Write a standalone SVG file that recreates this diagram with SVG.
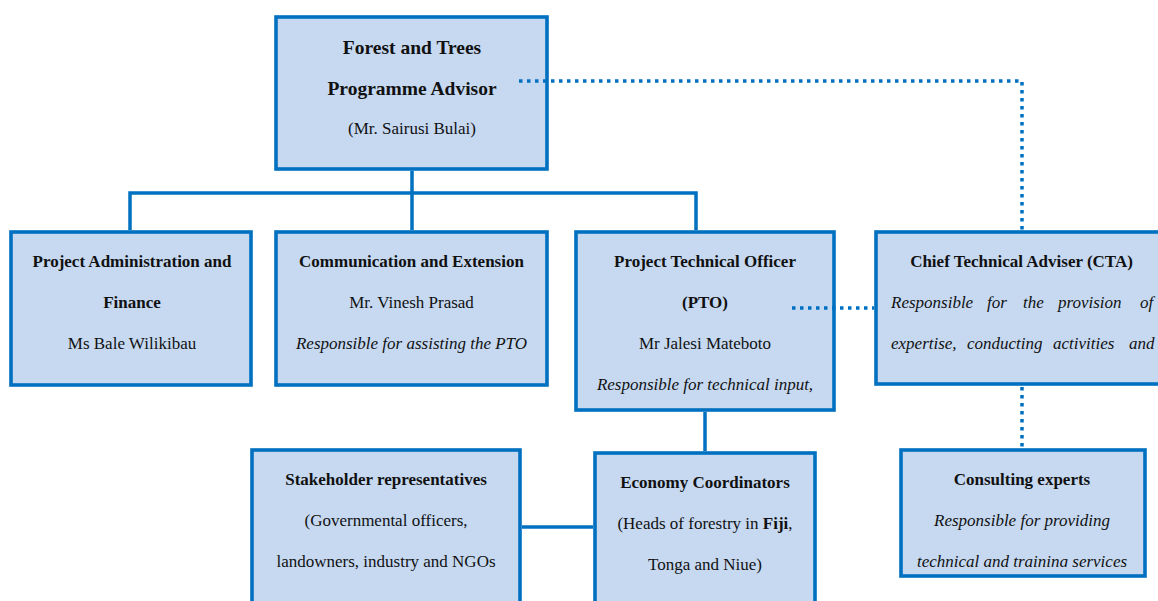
<svg xmlns="http://www.w3.org/2000/svg" width="1158" height="601" viewBox="0 0 1158 601">
<defs>
<style>
.box{fill:#C6D9F1;stroke:#0070C0;stroke-width:3.6}
text{font-family:"Liberation Serif","Times New Roman",serif;font-size:17px;fill:#111;text-anchor:middle}
.b{font-weight:bold}
.big{font-size:19.5px}
.i{font-style:italic}
.solid{fill:none;stroke:#0070C0;stroke-width:3.5}
.dot{fill:none;stroke:#0070C0;stroke-width:3.5;stroke-dasharray:3.5 4.5}
</style>
<clipPath id="clipCons"><rect x="890" y="440" width="270" height="127"/></clipPath>
</defs>
<rect width="1158" height="601" fill="#fff"/>
<g id="advisor">
<rect class="box" x="276" y="17" width="271" height="152"/>
<text class="b big" x="412" y="54">Forest and Trees</text>
<text class="b big" x="412" y="95">Programme Advisor</text>
<text x="412" y="134">(Mr. Sairusi Bulai)</text>
</g>
<g id="admin">
<rect class="box" x="11" y="232" width="240" height="153"/>
<text class="b" x="132" y="267">Project Administration and</text>
<text class="b" x="132" y="308">Finance</text>
<text x="132" y="349">Ms Bale Wilikibau</text>
</g>
<g id="comm">
<rect class="box" x="276" y="232" width="271" height="153"/>
<text class="b" x="411.5" y="267">Communication and Extension</text>
<text x="411.5" y="308">Mr. Vinesh Prasad</text>
<text class="i" x="411.5" y="349">Responsible for assisting the PTO</text>
</g>
<g id="pto">
<rect class="box" x="576" y="232" width="258" height="178"/>
<text class="b" x="705" y="267">Project Technical Officer</text>
<text class="b" x="705" y="308">(PTO)</text>
<text x="705" y="349">Mr Jalesi Mateboto</text>
<text class="i" x="705" y="390">Responsible for technical input,</text>
</g>
<g id="cta">
<rect class="box" x="876" y="232" width="300" height="152"/>
<text class="b" x="1021.5" y="267">Chief Technical Adviser (CTA)</text>
<text class="i" y="308" style="text-anchor:start"><tspan x="891">Responsible</tspan><tspan x="987">for</tspan><tspan x="1023">the</tspan><tspan x="1058">provision</tspan><tspan x="1140">of</tspan></text>
<text class="i" y="349" style="text-anchor:start"><tspan x="891">expertise,</tspan><tspan x="967">conducting</tspan><tspan x="1053">activities</tspan><tspan x="1129">and</tspan></text>
</g>
<g id="consulting">
<rect class="box" x="901" y="450" width="244" height="126"/>
<text class="b" x="1022" y="485">Consulting experts</text>
<text class="i" x="1022" y="526">Responsible for providing</text>
<text class="i" x="1022" y="567" clip-path="url(#clipCons)">technical and training services</text>
</g>
<g id="stakeholders">
<rect class="box" x="252" y="450" width="268" height="170"/>
<text class="b" x="386" y="485">Stakeholder representatives</text>
<text x="386" y="526">(Governmental officers,</text>
<text x="386" y="567">landowners, industry and NGOs</text>
</g>
<g id="economy">
<rect class="box" x="595" y="453" width="220" height="170"/>
<text class="b" x="705" y="488">Economy Coordinators</text>
<text x="705" y="529">(Heads of forestry in <tspan class="b">Fiji</tspan>,</text>
<text x="705" y="570">Tonga and Niue)</text>
</g>
<g id="connectors">
<path class="solid" d="M412 171 V193 M130 230 V193 H696 V230 M412 193 V230"/>
<path class="solid" d="M705 412 V451"/>
<path class="solid" d="M522 527 H593"/>
<path class="dot" d="M519 81 H1022 V230"/>
<path class="dot" d="M792 308 H874"/>
<path class="dot" d="M1022 387 V448"/>
</g>
</svg>
